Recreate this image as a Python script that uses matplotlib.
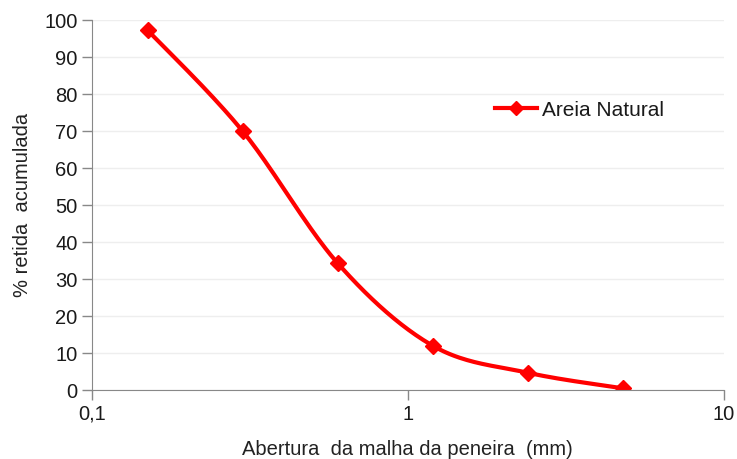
import numpy as np
from matplotlib import pyplot as plt
import matplotlib.ticker as ticker

plt.rcParams['font.family'] = ['Liberation Sans', 'DejaVu Sans']

abertura = [0.15, 0.3, 0.6, 1.2, 2.4, 4.8]
retida = [97.3, 70.0, 34.3, 12.0, 4.7, 0.5]
serie = 'Areia Natural'


def excel_smooth(xs, ys, n=40):
    # Excel-style smoothed line: cubic bezier, control points from neighbours
    # computed in screen-like units (log x axis)
    u = (np.log10(xs) + 1) / 2 * 632
    v = np.array(ys) / 100 * 370
    pts = np.column_stack([u, v])
    out = []
    for i in range(len(pts) - 1):
        p0 = pts[i - 1] if i > 0 else pts[i]
        p1 = pts[i]
        p2 = pts[i + 1]
        p3 = pts[i + 2] if i + 2 < len(pts) else pts[i + 1]
        c1 = p1 + (p2 - p0) / 6
        c2 = p2 - (p3 - p1) / 6
        t = np.linspace(0, 1, n)[:, None]
        seg = (1 - t) ** 3 * p1 + 3 * (1 - t) ** 2 * t * c1 + 3 * (1 - t) * t ** 2 * c2 + t ** 3 * p2
        out.append(seg if i == 0 else seg[1:])
    out = np.vstack(out)
    return 10 ** (out[:, 0] / 632 * 2 - 1), out[:, 1] / 370 * 100


fig = plt.figure(figsize=(7.37, 4.59), dpi=100)
ax = fig.add_axes([0.1248, 0.150, 0.857, 0.806])

sx, sy = excel_smooth(abertura, retida)
ax.plot(sx, sy, '-', color='#FF0000', lw=3, solid_capstyle='round')
ax.plot(abertura, retida, 'D', color='#FF0000', ms=8)
ax.plot([], [], '-D', color='#FF0000', lw=3, ms=7, label=serie)

ax.set_xscale('log')
ax.set_xlim(0.1, 10)
ax.set_ylim(0, 100)
ax.set_yticks(range(0, 101, 10))
ax.xaxis.set_major_locator(ticker.FixedLocator([0.1, 1, 10]))
ax.xaxis.set_minor_locator(ticker.NullLocator())
ax.xaxis.set_major_formatter(ticker.FixedFormatter(['0,1', '1', '10']))

ax.grid(axis='y', color='#eeeeee', lw=1)
ax.set_axisbelow(True)
for s in ['top', 'right']:
    ax.spines[s].set_visible(False)
for s in ['left', 'bottom']:
    ax.spines[s].set_color('#888888')
ax.tick_params(colors='#888888', labelcolor='#1a1a1a', labelsize=14.5, length=7, width=1)

ax.set_xlabel('Abertura  da malha da peneira  (mm)', fontsize=14.5, color='#222222', labelpad=12)
ax.set_ylabel('% retida  acumulada', fontsize=14.5, color='#222222', labelpad=9)

ax.legend(loc='center left', bbox_to_anchor=(495 / 737, 1 - 110 / 459), bbox_transform=fig.transFigure,
          frameon=False, fontsize=15, borderpad=0, borderaxespad=0,
          handlelength=2.0, handletextpad=0.25, labelcolor='#1a1a1a')

plt.savefig('out.png', dpi=100)
